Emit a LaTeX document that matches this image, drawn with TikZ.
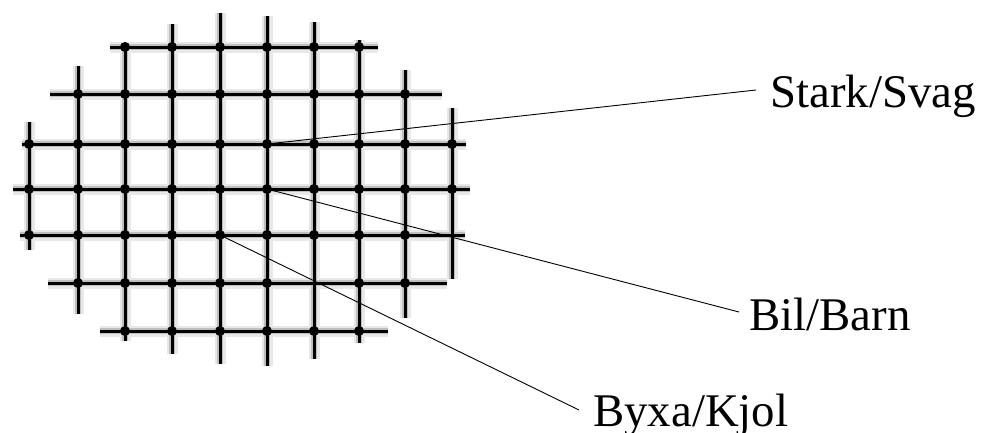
\documentclass[tikz,border=0pt]{standalone}
\usepackage{fontspec}
\setmainfont{Liberation Serif}
\begin{document}
\begin{tikzpicture}[x=1pt,y=-1pt,
  gridline/.style={line width=3pt,black},
  halo/.style={line width=11pt,black!9},
  halotwo/.style={line width=6pt,black!25},
  dot/.style={circle,fill=black,inner sep=0pt,minimum size=10pt},
  leader/.style={line width=0.9pt,black},
  lbl/.style={font=\fontsize{46.8}{50}\selectfont,inner sep=0pt,anchor=base west}]
\useasboundingbox (0,0) rectangle (982,432);
\def\xs{{29,78,125,172,220,267,314,359,405,452}}
% grid lines with blurred halo
\foreach \st in {halo,halotwo,gridline}{
  \foreach \y/\a/\b in {47/110/378,94/50/442,144/22/466,189/13/470,235/20/465,283/48/447,331/100/388}
    \draw[\st] (\a,\y) -- (\b,\y);
  \foreach \x/\a/\b in {29/122/250,78/66/314,125/45/341,172/24/354,220/13/364,267/16/366,314/22/359,359/40/343,405/70/318,452/108/279}
    \draw[\st] (\x,\a) -- (\x,\b);
}
% dots
\foreach \c in {2,...,7} \node[dot] (d-0-\c) at ({\xs[\c]},47) {};
\foreach \c in {1,...,8} \node[dot] (d-1-\c) at ({\xs[\c]},94) {};
\foreach \c in {0,...,9} \node[dot] (d-2-\c) at ({\xs[\c]},144) {};
\foreach \c in {0,...,9} \node[dot] (d-3-\c) at ({\xs[\c]},189) {};
\foreach \c in {0,...,8} \node[dot] (d-4-\c) at ({\xs[\c]},235) {};
\foreach \c in {1,2,3,4,5,7,8} \node[dot] (d-5-\c) at ({\xs[\c]},283) {};
\foreach \c in {2,...,7} \node[dot] (d-6-\c) at ({\xs[\c]},331) {};
% labels
\node[lbl] (s) at (770,107) {Stark/Svag};
\node[lbl] (b) at (749,330) {Bil/Barn};
\node[lbl] (k) at (593,426) {Byxa/Kjol};
\coordinate (se) at ([xshift=-14pt,yshift=17pt]s.base west);
\coordinate (be) at ([xshift=-10pt,yshift=18pt]b.base west);
\coordinate (ke) at ([xshift=-14pt,yshift=16pt]k.base west);
\draw[leader] (d-2-5.center) -- (se);
\draw[leader] (d-3-5.center) -- (be);
\draw[leader] (d-4-4.center) -- (ke);
\end{tikzpicture}
\end{document}
